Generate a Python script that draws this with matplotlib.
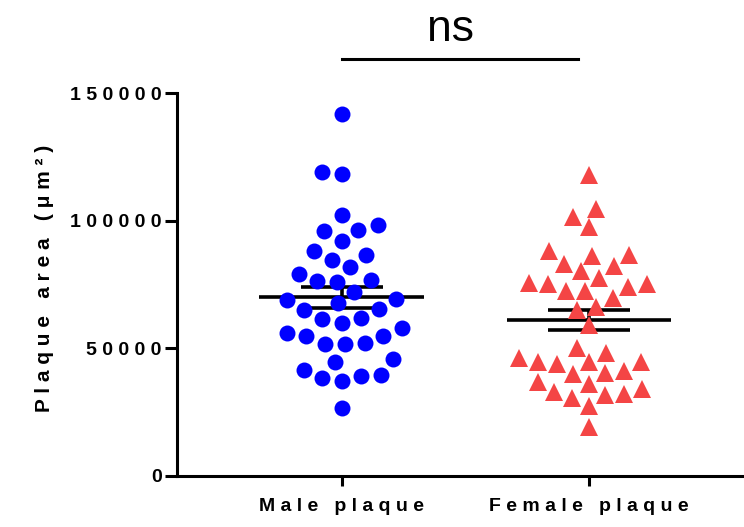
import numpy as np
import matplotlib
matplotlib.use("Agg")
import matplotlib.pyplot as plt

plt.rcParams['font.family'] = ['Liberation Sans', 'DejaVu Sans']

groups = ["Male plaque", "Female plaque"]
y_label = "Plaque area (μm²)"
sig_text = "ns"

male = [142030, 118470, 119100, 102490, 96600, 95930, 98290, 92280, 88350, 84820,
        86780, 82070, 79320, 76450, 76180, 76690, 72130, 68840, 69230, 65300,
        67660, 65060, 62040, 61530, 58110, 59960, 54970, 52220, 51710, 51830,
        54970, 55880, 44760, 46060, 39780, 38360, 37300, 39390, 41620, 26820]
female = [118190, 101700, 104570, 97650, 88080, 86270, 86510, 83130, 80220, 82190,
          75670, 75270, 74210, 75390, 77630, 72640, 72530, 69620, 65060, 66360,
          59290, 50260, 48180, 44650, 44650, 41230, 40050, 40330, 44100, 44650,
          46220, 36240, 33100, 31920, 30750, 32080, 34280, 37030, 27600, 19240]
y_ticks = [0, 50000, 100000, 150000]


def spaced(s):
    # GraphPad-style wide letter spacing
    return " ".join(s)


def swarm(ax, x0, values, d):
    # simple beeswarm in pixel space: place each point as close to centre as possible
    pix = ax.transData.transform(np.column_stack([np.full(len(values), x0), values]))
    ypix = pix[:, 1]
    xs = np.zeros(len(values))
    placed = []
    for i in np.argsort(ypix):
        y = ypix[i]
        cands = [0.0]
        for px, py in placed:
            dy = y - py
            if abs(dy) < d:
                dx = np.sqrt(d * d - dy * dy)
                cands += [px + dx, px - dx]
        cands.sort(key=lambda c: (abs(c), c))
        for c in cands:
            if all((c - px) ** 2 + (y - py) ** 2 >= d * d - 1e-6 for px, py in placed):
                xs[i] = c
                break
        placed.append((xs[i], y))
    pts = np.column_stack([pix[:, 0] + xs, ypix])
    return ax.transData.inverted().transform(pts)[:, 0]


fig = plt.figure(figsize=(7.44, 5.27), dpi=100)
ax = fig.add_axes([0.238, 0.0968, 0.762, 0.726])
ax.set_xlim(-0.665, 1.626)
ax.set_ylim(0, 150000)

styles = [dict(marker="o", color="#0000FF", ms=11.5, d=20),
          dict(marker="^", color="#F44545", ms=12.5, d=19)]

for i, (vals, st) in enumerate(zip([male, female], styles)):
    vals = np.array(vals, dtype=float)
    xs = swarm(ax, i, vals, st["d"])
    ax.plot(xs, vals, linestyle="none", marker=st["marker"], color=st["color"],
            ms=st["ms"], markeredgewidth=0, zorder=3, clip_on=False)
    m = vals.mean()
    sem = vals.std(ddof=1) / np.sqrt(len(vals))
    ax.hlines(m, i - 0.333, i + 0.333, color="black", lw=2.6, zorder=2)
    ax.hlines([m - sem, m + sem], i - 0.166, i + 0.166, color="black", lw=2.6, zorder=2)
    ax.vlines(i, m - sem, m + sem, color="black", lw=2.6, zorder=2)

# significance bar
ax.plot([0.0, 0.955], [163500, 163500], color="black", lw=2.2, clip_on=False)
ax.text(0.44, 170500, sig_text, ha="center", va="baseline", fontsize=32)

ax.set_xticks([0, 1])
ax.set_xticklabels([spaced(g) for g in groups], fontsize=14, fontweight="bold")
ax.set_yticks(y_ticks)
ax.set_yticklabels([spaced(str(t)) for t in y_ticks], fontsize=14, fontweight="bold")
ax.set_ylabel(spaced(y_label), fontsize=15, fontweight="bold")
ax.yaxis.set_label_coords(-0.217, 0.516)

for side in ["top", "right"]:
    ax.spines[side].set_visible(False)
for side in ["left", "bottom"]:
    ax.spines[side].set_linewidth(2.2)
ax.tick_params(axis="y", length=9, width=2.2, pad=2)
ax.tick_params(axis="x", length=7, width=2.2, pad=9)

fig.savefig("out.png", dpi=100)
